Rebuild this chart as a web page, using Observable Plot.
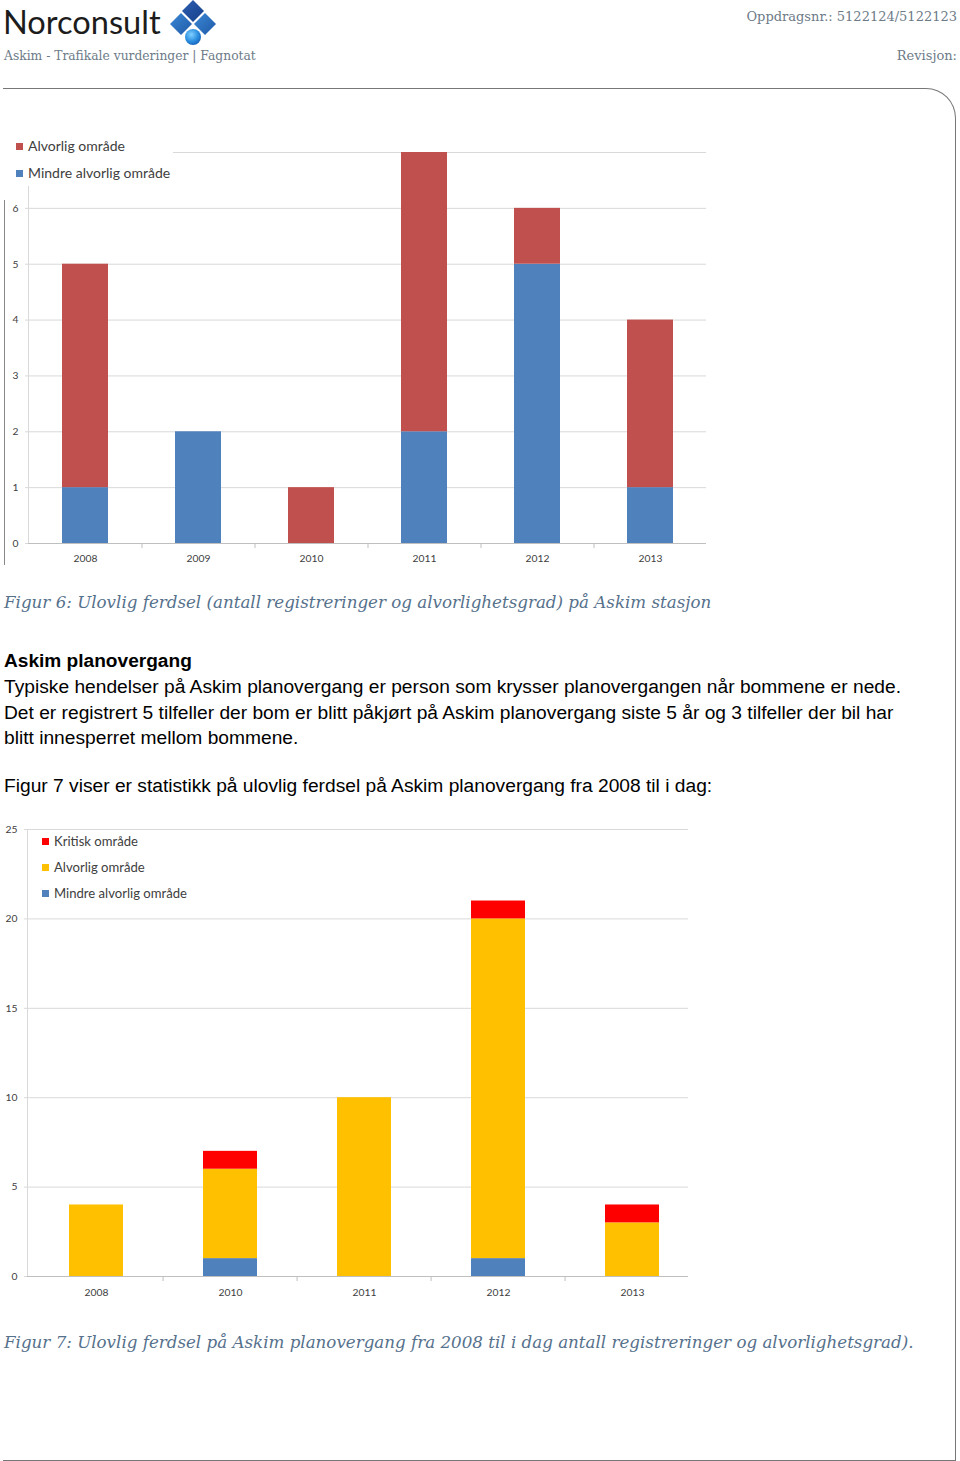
<!DOCTYPE html>
<html><head><meta charset="utf-8">
<script src="https://cdn.jsdelivr.net/npm/d3@7"></script>
<script src="https://cdn.jsdelivr.net/npm/@observablehq/plot@0.6"></script>
<style>
html,body{margin:0;padding:0;background:#fff;}
body{width:960px;height:1461px;position:relative;overflow:hidden;font-family:"Liberation Sans",Arial,sans-serif;color:#000;}
.abs{position:absolute;white-space:nowrap;}
.slab{font-family:"DejaVu Serif",serif;color:#6d7b88;}
.cap{font-family:"DejaVu Serif",serif;font-style:italic;color:#56718c;font-size:16.7px;line-height:20px;}
.body{font-size:19.2px;line-height:25.5px;}
.legend{position:absolute;background:#fff;font-family:Lato,"Open Sans",sans-serif;color:#404040;}
.legend .it{position:absolute;white-space:nowrap;line-height:14px;}
.legend .sw{display:inline-block;width:7px;height:7px;margin-right:5px;vertical-align:1px;}
</style></head><body>

<!-- page frame -->
<div class="abs" style="left:3px;top:88px;width:952px;height:1371px;border-top:1px solid #777;border-right:1px solid #777;border-bottom:1px solid #777;border-top-right-radius:30px;"></div>

<!-- header -->
<div class="abs" style="left:3px;top:6px;font-family:Lato,'Open Sans',sans-serif;font-size:32.6px;line-height:32px;color:#1c1c1c;">Norconsult</div>
<svg class="abs" style="left:168px;top:0px" width="50" height="48" viewBox="0 0 50 48">
  <defs>
    <linearGradient id="g1" x1="0" y1="0" x2="1" y2="1"><stop offset="0" stop-color="#2b5fb0"/><stop offset="1" stop-color="#173f8a"/></linearGradient>
    <linearGradient id="g2" x1="0" y1="0" x2="1" y2="1"><stop offset="0" stop-color="#3b87d4"/><stop offset="1" stop-color="#1f5aa8"/></linearGradient>
    <radialGradient id="g3" cx="0.4" cy="0.35" r="0.7"><stop offset="0" stop-color="#7fd0ff"/><stop offset="0.6" stop-color="#2c8fe0"/><stop offset="1" stop-color="#1560b8"/></radialGradient>
  </defs>
  <polygon points="25,0 36,11 25,22 14,11" fill="url(#g1)"/>
  <polygon points="13,13 24,24 13,35 2,24" fill="url(#g2)"/>
  <polygon points="37,13 48,24 37,35 26,24" fill="url(#g2)"/>
  <circle cx="25" cy="37" r="8" fill="url(#g3)"/>
</svg>
<div class="abs slab" style="left:4px;top:48px;font-size:12.3px;line-height:16px;">Askim - Trafikale vurderinger | Fagnotat</div>
<div class="abs slab" style="right:3px;top:9px;font-size:13px;line-height:16px;">Oppdragsnr.: 5122124/5122123</div>
<div class="abs slab" style="right:3px;top:48px;font-size:13px;line-height:16px;">Revisjon:</div>

<!-- chart 1 -->
<div class="abs" style="left:4px;top:200px;width:0;height:365px;border-left:1px solid #888;"></div>
<div id="chart1" class="abs" style="left:0;top:130px;"></div>
<div class="legend" style="left:5px;top:134px;width:168px;height:52px;font-size:14px;">
  <div class="it" style="left:11px;top:5px;"><span class="sw" style="background:#C0504D"></span>Alvorlig område</div>
  <div class="it" style="left:11px;top:32px;"><span class="sw" style="background:#4F81BD"></span>Mindre alvorlig område</div>
</div>
<div class="abs cap" style="left:4px;top:592px;">Figur 6: Ulovlig ferdsel (antall registreringer og alvorlighetsgrad) på Askim stasjon</div>

<!-- body text -->
<div class="abs" style="left:4px;top:651px;font-size:19.1px;line-height:20px;font-weight:bold;">Askim planovergang</div>
<div class="abs body" style="left:4px;top:674px;">Typiske hendelser på Askim planovergang er person som krysser planovergangen når bommene er nede.<br>Det er registrert 5 tilfeller der bom er blitt påkjørt på Askim planovergang siste 5 år og 3 tilfeller der bil har<br>blitt innesperret mellom bommene.</div>
<div class="abs body" style="left:4px;top:773px;">Figur 7 viser er statistikk på ulovlig ferdsel på Askim planovergang fra 2008 til i dag:</div>

<!-- chart 2 -->
<div id="chart2" class="abs" style="left:0;top:820px;"></div>
<div class="legend" style="left:30px;top:832px;width:162px;height:72px;font-size:13.1px;">
  <div class="it" style="left:12px;top:2px;"><span class="sw" style="background:#FF0000"></span>Kritisk område</div>
  <div class="it" style="left:12px;top:28px;"><span class="sw" style="background:#FFC000"></span>Alvorlig område</div>
  <div class="it" style="left:12px;top:54px;"><span class="sw" style="background:#4F81BD"></span>Mindre alvorlig område</div>
</div>
<div class="abs cap" style="left:4px;top:1332px;">Figur 7: Ulovlig ferdsel på Askim planovergang fra 2008 til i dag antall registreringer og alvorlighetsgrad).</div>

<script>
// ---------- Data: Figur 6 (Askim stasjon) ----------
const years1 = ["2008", "2009", "2010", "2011", "2012", "2013"];
const series1 = ["Mindre alvorlig område", "Alvorlig område"];
const colors1 = ["#4F81BD", "#C0504D"];
const mindre1 = [1, 2, 0, 2, 5, 1];
const alvorlig1 = [4, 0, 1, 5, 1, 3];
const yGrid1 = [0, 1, 2, 3, 4, 5, 6, 7];
const yLabels1 = [0, 1, 2, 3, 4, 5, 6];

// ---------- Data: Figur 7 (Askim planovergang) ----------
const years2 = ["2008", "2010", "2011", "2012", "2013"];
const series2 = ["Mindre alvorlig område", "Alvorlig område", "Kritisk område"];
const colors2 = ["#4F81BD", "#FFC000", "#FF0000"];
const mindre2 = [0, 1, 0, 1, 0];
const alvorlig2 = [4, 5, 10, 19, 3];
const kritisk2 = [0, 1, 0, 1, 1];
const yGrid2 = [0, 5, 10, 15, 20, 25];
const yLabels2 = [0, 5, 10, 15, 20, 25];

function toRows(years, names, valueArrays) {
  const rows = [];
  years.forEach((year, i) => names.forEach((serie, k) => rows.push({year, serie, value: valueArrays[k][i]})));
  return rows;
}
const rows1 = toRows(years1, series1, [mindre1, alvorlig1]);
const rows2 = toRows(years2, series2, [mindre2, alvorlig2, kritisk2]);

function makeChart({years, names, colors, rows, yDomain, yGrid, yLabels, W, H, MT, MB, ML, MR, xRange, padIn, xPad}) {
  const step = (xRange[1] - xRange[0]) / years.length;
  return Plot.plot({
    width: W, height: H,
    marginTop: MT, marginBottom: MB, marginLeft: ML, marginRight: MR,
    style: {fontFamily: "Lato, 'Open Sans', sans-serif", fontSize: "10.3px", color: "#404040", background: "none", overflow: "visible"},
    x: {domain: years, range: xRange, paddingInner: padIn, paddingOuter: padIn / 2, label: null},
    y: {domain: yDomain, label: null},
    color: {domain: names, range: colors},
    marks: [
      Plot.gridY(yGrid, {stroke: "#d9d9d9", strokeOpacity: 1}),
      Plot.frame({anchor: "left", stroke: "#d9d9d9"}),
      Plot.axisY(yLabels, {tickSize: 3, text: null, stroke: "#d9d9d9", label: null}),
      Plot.axisY(yLabels, {tickSize: 0, tickPadding: 10, fill: "#404040", tickFormat: (d) => String(d), label: null}),
      Plot.barY(rows, {x: "year", y: "value", fill: "serie", order: names}),
      Plot.ruleY([0], {stroke: "#bfbfbf"}),
      Plot.axisX(years.slice(1), {tickSize: 5, text: null, dx: -step / 2, stroke: "#bfbfbf", label: null}),
      Plot.axisX({tickSize: 0, tickPadding: xPad, fill: "#404040", label: null})
    ]
  });
}

document.getElementById("chart1").append(makeChart({
  years: years1, names: series1, colors: colors1, rows: rows1,
  yDomain: [0, 7], yGrid: yGrid1, yLabels: yLabels1,
  W: 710, H: 440, MT: 22, MB: 27, ML: 28, MR: 4, xRange: [28, 706], padIn: 0.593, xPad: 11
}));
document.getElementById("chart2").append(makeChart({
  years: years2, names: series2, colors: colors2, rows: rows2,
  yDomain: [0, 25], yGrid: yGrid2, yLabels: yLabels2,
  W: 690, H: 482, MT: 9, MB: 26, ML: 27, MR: 2, xRange: [27, 701], padIn: 0.6, xPad: 12
}));
</script>
</body></html>
